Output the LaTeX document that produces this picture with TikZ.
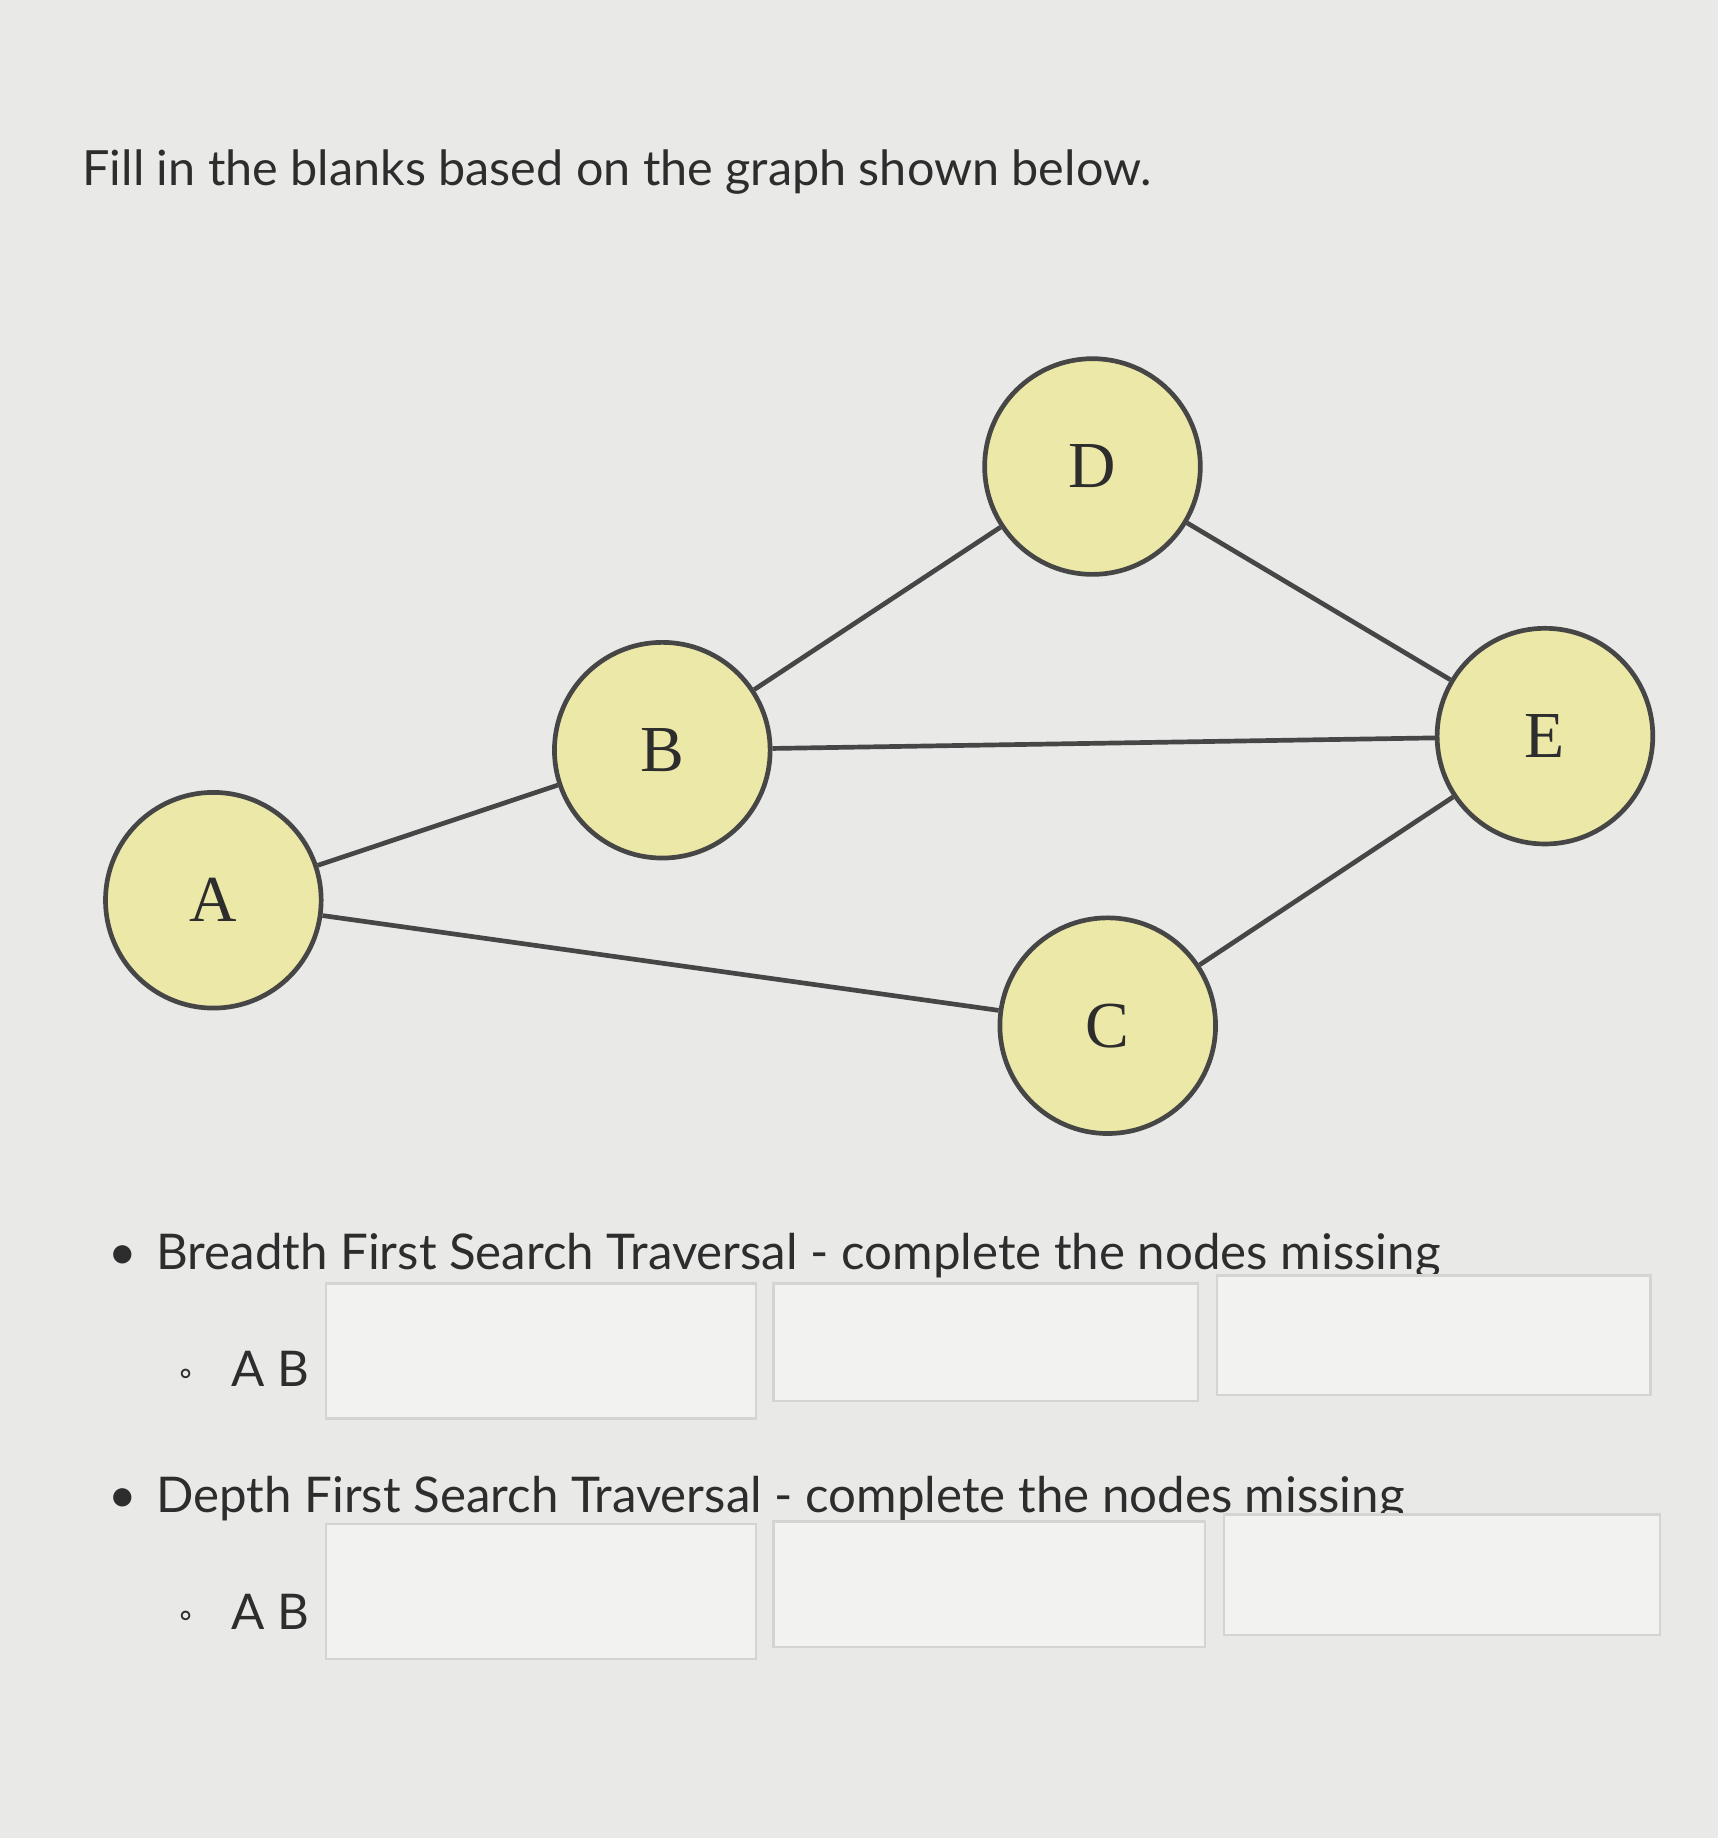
\documentclass[tikz,border=0pt]{standalone}
\usepackage{fontspec}
\setmainfont{Lato}
\newfontfamily\serifnode{Liberation Serif}
\newfontfamily\symfont{DejaVu Sans}
\definecolor{bg}{RGB}{233,233,231}
\definecolor{nodefill}{RGB}{236,232,168}
\definecolor{edgec}{RGB}{70,70,70}
\definecolor{boxc}{RGB}{212,212,210}
\definecolor{txt}{RGB}{45,45,45}
\begin{document}
\begin{tikzpicture}[x=0.5pt,y=-0.5pt,
  gnode/.style={circle,draw=edgec,line width=2pt,fill=nodefill,minimum size=92pt,inner sep=0pt,font=\serifnode\fontsize{28}{30}\selectfont,text=txt},
  gedge/.style={draw=edgec,line width=2pt},
  blank/.style={draw=boxc,line width=1pt,fill=bg!60!white},
  lbl/.style={anchor=base west,inner sep=0pt,text=txt,font=\fontsize{21}{24}\selectfont}]
\fill[bg] (0,0) rectangle (1466,1568);
\useasboundingbox (0,0) rectangle (1466,1568);
\node[lbl,font=\fontsize{20.7}{24}\selectfont] (title) at (70,158) {Fill in the blanks based on the graph shown below.};
\node[gnode] (D) at (932,398) {D};
\node[gnode] (B) at (565,640) {B};
\node[gnode] (E) at (1318,628) {E};
\node[gnode] (A) at (182,768) {A};
\node[gnode] (C) at (945,875) {C};
\draw[gedge] (A) -- (B);
\draw[gedge] (A) -- (C);
\draw[gedge] (B) -- (D);
\draw[gedge] (B) -- (E);
\draw[gedge] (D) -- (E);
\draw[gedge] (C) -- (E);
\node[lbl] (b1) at (92,1083) {•};
\node[lbl] (t1) at (133,1083) {Breadth First Search Traversal - complete the nodes missing};
\node[lbl,font=\symfont\fontsize{13}{14}\selectfont] (c1) at (150,1180) {∘};
\node[lbl] (ab1) at (197,1183) {A B};
\draw[blank] (278,1095) rectangle (645,1210);
\draw[blank] (660,1095) rectangle (1022,1195);
\draw[blank] (1038,1088) rectangle (1408,1190);
\node[lbl] (b2) at (92,1290) {•};
\node[lbl] (t2) at (133,1290) {Depth First Search Traversal - complete the nodes missing};
\node[lbl,font=\symfont\fontsize{13}{14}\selectfont] (c2) at (150,1387) {∘};
\node[lbl] (ab2) at (197,1390) {A B};
\draw[blank] (278,1300) rectangle (645,1415);
\draw[blank] (660,1298) rectangle (1028,1405);
\draw[blank] (1044,1292) rectangle (1416,1395);
\end{tikzpicture}
\end{document}
